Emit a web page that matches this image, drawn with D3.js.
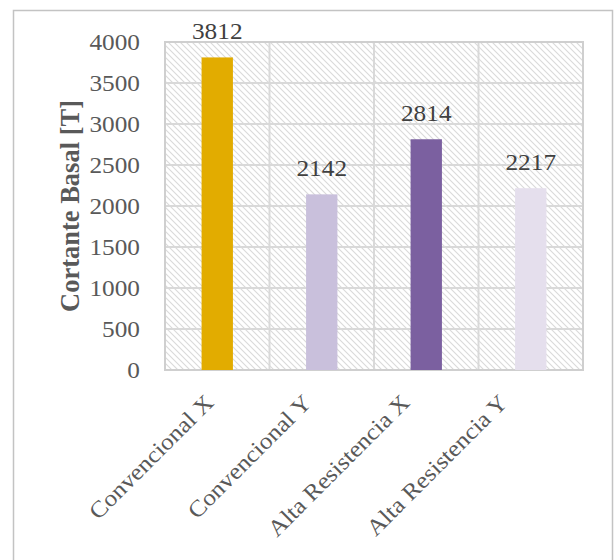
<!DOCTYPE html>
<html><head><meta charset="utf-8">
<script src="https://cdn.jsdelivr.net/npm/d3@7"></script>
<style>body{margin:0;background:#fff}svg{display:block}</style>
</head><body>
<script>
const categories = ["Convencional X","Convencional Y","Alta Resistencia X","Alta Resistencia Y"];
const values = [3812, 2142, 2814, 2217];
const colors = ["#E2AC00","#C9C0DC","#7B60A0","#E5DFED"];
const yTicks = [0,500,1000,1500,2000,2500,3000,3500,4000];
const yTitle = "Cortante Basal [T]";

const W=614,H=560;
const svg=d3.select("body").append("svg").attr("width",W).attr("height",H);
const defs=svg.append("defs");
const pat=defs.append("pattern").attr("id","hatch").attr("patternUnits","userSpaceOnUse")
  .attr("width",6).attr("height",6);
pat.append("rect").attr("width",6).attr("height",6).attr("fill","#fff");
pat.append("path").attr("d","M-1,-1 L7,7 M-1,5 L1,7 M5,-1 L7,1").attr("stroke","#dadada").attr("stroke-width",1.1);

// outer frame
svg.append("rect").attr("x",13.5).attr("y",10.5).attr("width",599).attr("height",560)
  .attr("fill","none").attr("stroke","#c3c3c3").attr("stroke-width",1.5);

const L=165,R=583,T=42,B=370;
const x=d3.scaleBand().domain(categories).range([L,R]);
const xLab=d3.scalePoint().domain(categories).range([L+50,L+344]);
const y=d3.scaleLinear().domain([0,4000]).range([B,T]);
const font="'Liberation Serif','Times New Roman',serif";

svg.append("rect").attr("x",L).attr("y",T).attr("width",R-L).attr("height",B-T).attr("fill","url(#hatch)");

// grid
const g=svg.append("g");
g.selectAll("line.h").data(yTicks).join("line")
  .attr("x1",L).attr("x2",R).attr("y1",d=>y(d)).attr("y2",d=>y(d))
  .attr("stroke","#d9d9d9").attr("stroke-width",2);
const vb=categories.map(c=>x(c)).concat([R]);
g.selectAll("line.v").data(vb).join("line")
  .attr("x1",d=>d).attr("x2",d=>d).attr("y1",T).attr("y2",B)
  .attr("stroke","#d9d9d9").attr("stroke-width",2);
svg.append("rect").attr("x",L).attr("y",T).attr("width",R-L).attr("height",B-T)
  .attr("fill","none").attr("stroke","#cfcfcf").attr("stroke-width",2);

// bars
const bw=x.bandwidth()*0.3;
svg.selectAll("rect.bar").data(values).join("rect")
  .attr("x",(d,i)=>x(categories[i])+x.bandwidth()/2-bw/2)
  .attr("y",d=>y(d)).attr("width",bw).attr("height",d=>y(0)-y(d))
  .attr("fill",(d,i)=>colors[i]);

// value labels
svg.selectAll("text.val").data(values).join("text")
  .attr("transform",(d,i)=>`translate(${x(categories[i])+x.bandwidth()/2},${y(d)-18}) scale(1.1,1)`)
  .attr("text-anchor","middle").attr("font-family",font).attr("font-size",23)
  .attr("fill","#404040").text(d=>d);

// y tick labels
svg.selectAll("text.yt").data(yTicks).join("text")
  .attr("transform",d=>`translate(140,${y(d)+8}) scale(1.1,1)`)
  .attr("text-anchor","end").attr("font-family",font).attr("font-size",23)
  .attr("fill","#595959").text(d=>d);

// y title
svg.append("text").attr("transform",`translate(79,${(T+B)/2}) rotate(-90)`)
  .attr("text-anchor","middle").attr("font-family",font).attr("font-size",26.5)
  .attr("font-weight","bold").attr("fill","#595959").text(yTitle);

// x labels
svg.selectAll("text.xl").data(categories).join("text")
  .attr("transform",d=>`translate(${xLab(d)},${B+34}) rotate(-45) scale(1.1,1)`)
  .attr("text-anchor","end").attr("font-family",font).attr("font-size",23)
  .attr("fill","#595959").text(d=>d);
</script>
</body></html>
